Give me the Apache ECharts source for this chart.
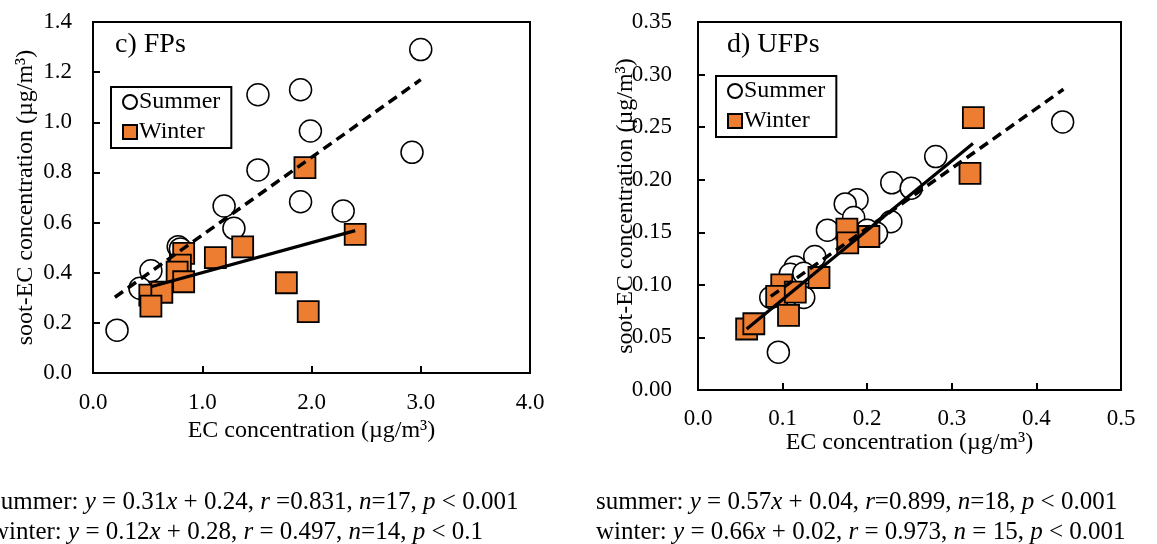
<!DOCTYPE html>
<html><head><meta charset="utf-8">
<script src="https://cdn.jsdelivr.net/npm/echarts@6/dist/echarts.min.js"></script>
<style>html,body{margin:0;padding:0;background:#fff}#c{width:1157px;height:544px}</style>
</head><body><div id="c"></div>
<script>
// ---- Panel c) FPs ----
const fpsSummer = [[3.0,1.29],[1.51,1.11],[1.90,1.13],[1.99,0.965],[2.92,0.88],[1.51,0.81],[1.90,0.683],[1.20,0.666],[2.29,0.646],[1.29,0.577],[0.78,0.504],[0.80,0.495],[0.53,0.408],[0.43,0.338],[0.22,0.171]];
const fpsWinter = [[1.94,0.819],[2.40,0.553],[1.37,0.503],[1.12,0.46],[0.83,0.477],[0.80,0.43],[0.77,0.402],[0.83,0.364],[1.77,0.36],[1.97,0.245],[0.52,0.311],[0.63,0.322],[0.53,0.267]];
const fpsSummerFit = [[0.20,0.302],[3.0,1.17]];
const fpsWinterFit = [[0.53,0.344],[2.40,0.568]];
// ---- Panel d) UFPs ----
const ufpsSummer = [[0.431,0.255],[0.281,0.222],[0.229,0.197],[0.252,0.192],[0.188,0.181],[0.174,0.177],[0.184,0.164],[0.228,0.160],[0.211,0.149],[0.200,0.152],[0.153,0.152],[0.138,0.127],[0.115,0.117],[0.109,0.110],[0.125,0.111],[0.125,0.088],[0.086,0.088],[0.095,0.036]];
const ufpsWinter = [[0.3255,0.259],[0.3215,0.206],[0.176,0.153],[0.202,0.146],[0.177,0.140],[0.143,0.107],[0.099,0.100],[0.093,0.089],[0.115,0.093],[0.107,0.071],[0.0575,0.058],[0.066,0.063]];
const ufpsSummerFit = [[0.086,0.089],[0.432,0.286]];
const ufpsWinterFit = [[0.0575,0.058],[0.325,0.2345]];
// ---- Texts ----
const panelTitles = ['c) FPs','d) UFPs'];
const seriesNames = ['Summer','Winter'];
const xTitle = 'EC concentration (µg/m³)';
const yTitle = 'soot-EC concentration (µg/m³)';
const eqLeft = ['summer: *y* = 0.31*x* + 0.24, *r* =0.831, *n*=17, *p* < 0.001','winter: *y* = 0.12*x* + 0.28, *r* = 0.497, *n*=14, *p* < 0.1'];
const eqRight = ['summer: *y* = 0.57*x* + 0.04, *r*=0.899, *n*=18, *p* < 0.001','winter: *y* = 0.66*x* + 0.02, *r* = 0.973, *n* = 15, *p* < 0.001'];

const FONT = 'Liberation Serif';
const ORANGE = '#ED7D31';

function toRich(line){
  return line.split('*').map((s,i)=> s.length ? (i%2 ? '{i|'+s+'}' : '{a|'+s+'}') : '').join('');
}
const eqRich = {
  a:{fontFamily:FONT,fontSize:25,fontWeight:'normal',color:'#000',lineHeight:30},
  i:{fontFamily:FONT,fontSize:25,fontWeight:'normal',color:'#000',fontStyle:'italic',lineHeight:30}
};

function axisCommon(){
  return {
    type:'value',
    axisLine:{show:true,lineStyle:{color:'#000',width:2}},
    axisTick:{show:true,inside:true,length:7,lineStyle:{color:'#000',width:2}},
    splitLine:{show:false},
    axisLabel:{fontFamily:FONT,fontSize:23,color:'#000'},
    nameLocation:'middle',
    nameMoveOverlap:false,
    nameTextStyle:{fontFamily:FONT,fontSize:24,color:'#000'}
  };
}
function xa(grid,min,max,interval,dec,gap,margin){
  const a = axisCommon();
  Object.assign(a,{gridIndex:grid,min,max,interval,name:xTitle,nameGap:gap});
  a.axisLabel = Object.assign({},a.axisLabel,{margin,formatter:v=>v.toFixed(dec)});
  return a;
}
function ya(grid,min,max,interval,dec,gap,margin){
  const a = axisCommon();
  Object.assign(a,{gridIndex:grid,min,max,interval,name:yTitle,nameGap:gap});
  a.axisLabel = Object.assign({},a.axisLabel,{margin,formatter:v=>v.toFixed(dec)});
  return a;
}
function scatter(name,data,xi){
  const isW = name==='Winter';
  return {type:'scatter',name,xAxisIndex:xi,yAxisIndex:xi,data,
    symbol:isW?'rect':'circle',symbolSize:isW?21:22,
    itemStyle:{color:isW?ORANGE:'#fff',borderColor:'#000',borderWidth:isW?1.8:1.5,opacity:1},
    z:isW?3:2,silent:true};
}
function fit(data,xi,dashed){
  return {type:'line',data,xAxisIndex:xi,yAxisIndex:xi,symbol:'none',silent:true,z:5,
    lineStyle:{color:'#000',width:dashed?3.5:3.2,type:dashed?[10,6]:'solid'}};
}
function legend(left,top){
  return {left,top,orient:'vertical',data:seriesNames,itemWidth:14,itemHeight:14,itemGap:6,
    padding:[3,11,4,11],borderColor:'#000',borderWidth:2,selectedMode:false,
    textStyle:{fontFamily:FONT,fontSize:24,color:'#000',padding:[0,0,0,-3]}};
}

const option = {
  backgroundColor:'#fff',
  animation:false,
  title:[
    {text:panelTitles[0],left:115,top:31,padding:0,textStyle:{fontFamily:FONT,fontSize:28,fontWeight:'normal',color:'#000'}},
    {text:panelTitles[1],left:727,top:31,padding:0,textStyle:{fontFamily:FONT,fontSize:28,fontWeight:'normal',color:'#000'}},
    {text:eqLeft.map(toRich).join('\n'),left:-9,top:487,padding:0,textStyle:{fontWeight:'normal',rich:eqRich}},
    {text:eqRight.map(toRich).join('\n'),left:596,top:487,padding:0,textStyle:{fontWeight:'normal',rich:eqRich}}
  ],
  legend:[legend(111,87),legend(716,76)],
  grid:[
    {left:93,top:22,width:437,height:351,show:true,borderColor:'#000',borderWidth:2},
    {left:698,top:22,width:423,height:368,show:true,borderColor:'#000',borderWidth:2}
  ],
  xAxis:[xa(0,0,4,1,1,46,18),xa(1,0,0.5,0.1,1,41,17)],
  yAxis:[ya(0,0,1.4,0.2,1,55,21),ya(1,0,0.35,0.05,2,60,26)],
  series:[
    scatter('Summer',fpsSummer,0),
    scatter('Winter',fpsWinter,0),
    fit(fpsSummerFit,0,true),
    fit(fpsWinterFit,0,false),
    scatter('Summer',ufpsSummer,1),
    scatter('Winter',ufpsWinter,1),
    fit(ufpsSummerFit,1,true),
    fit(ufpsWinterFit,1,false)
  ]
};
const chart = echarts.init(document.getElementById('c'),null,{renderer:'canvas'});
chart.setOption(option);
</script>
</body></html>
